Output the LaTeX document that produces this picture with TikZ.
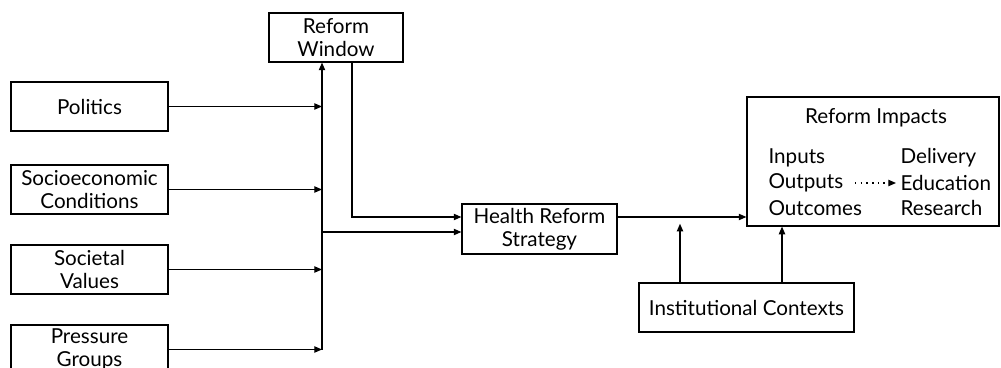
\documentclass[tikz,border=0pt]{standalone}
\usepackage{fontspec}
\setmainfont{Lato}
\usetikzlibrary{arrows.meta}
\begin{document}
\begin{tikzpicture}[x=0.3mm, y=-0.3mm,
  box/.style={draw, line width=1pt, inner sep=0pt, align=center,
    minimum width=47.1mm, minimum height=14.7mm},
  txt/.style={inner sep=0pt, anchor=west},
  every node/.style={font=\fontsize{17.6}{19.5}\selectfont},
  >={Triangle[length=2.3mm, width=1.9mm]}, line width=1pt]
\useasboundingbox (0,0) rectangle (1001,368);
% influences
\node[box] (pol) at (89.5,106.5) {Politics};
\node[box] (soc) at (89.5,189.5) {Socioeconomic\\Conditions};
\node[box] (val) at (89.5,269.5) {Societal\\Values};
\node[box] (grp) at (89.5,349.5) {Pressure\\Groups};
\node[box, minimum width=40.2mm] (win) at (336,37.5) {Reform\\Window};
\node[box, minimum width=46.5mm, minimum height=15mm] (hrs) at (539.5,229) {Health Reform\\Strategy};
\node[box, minimum width=64.5mm] (ins) at (746.5,307.5) {Institutional Contexts};
% impacts
\node[draw, minimum width=75.6mm, minimum height=38.7mm] (imp) at (873,161.5) {};
\node[inner sep=0pt] (impt) at (876,118) {Reform Impacts};
\node[txt] (inp) at (768,158) {Inputs};
\node[txt] (outp) at (768,183) {Outputs};
\node[txt] (outc) at (768,208) {Outcomes};
\node[txt] (del) at (900,158) {Delivery};
\node[txt] (edu) at (900,183) {Education};
\node[txt] (res) at (900,208) {Research};
\draw[->, line width=1pt, dash pattern=on 1.3pt off 3.6pt, shorten <=3.3mm, shorten >=1.2mm] (outp.east) -- (edu.west);
% bus
\coordinate (bus) at (322,349.5);
\draw[->] (bus) -- (bus |- win.south);
\draw[->] (pol.east) -- (pol.east -| bus);
\draw[->] (soc.east) -- (soc.east -| bus);
\draw[->] (val.east) -- (val.east -| bus);
\draw[->] (grp.east) -- (bus);
\coordinate (hin1) at ([yshift=3.6mm]hrs.west);
\coordinate (hin2) at ([yshift=-0.9mm]hrs.west);
\coordinate (hout) at ([yshift=3.6mm]hrs.east);
\draw[->] ([xshift=4.8mm]win.south) |- (hin1);
\draw[->] (bus |- hin2) -- (hin2);
\draw[->] (hout) -- (hout -| imp.west);
\draw[->, shorten >=1mm] ([xshift=-19.95mm]ins.north) -- ++(0,-62);
\draw[->] ([xshift=10.65mm]ins.north) -- ([xshift=10.65mm]ins.north |- imp.south);
\end{tikzpicture}
\end{document}
